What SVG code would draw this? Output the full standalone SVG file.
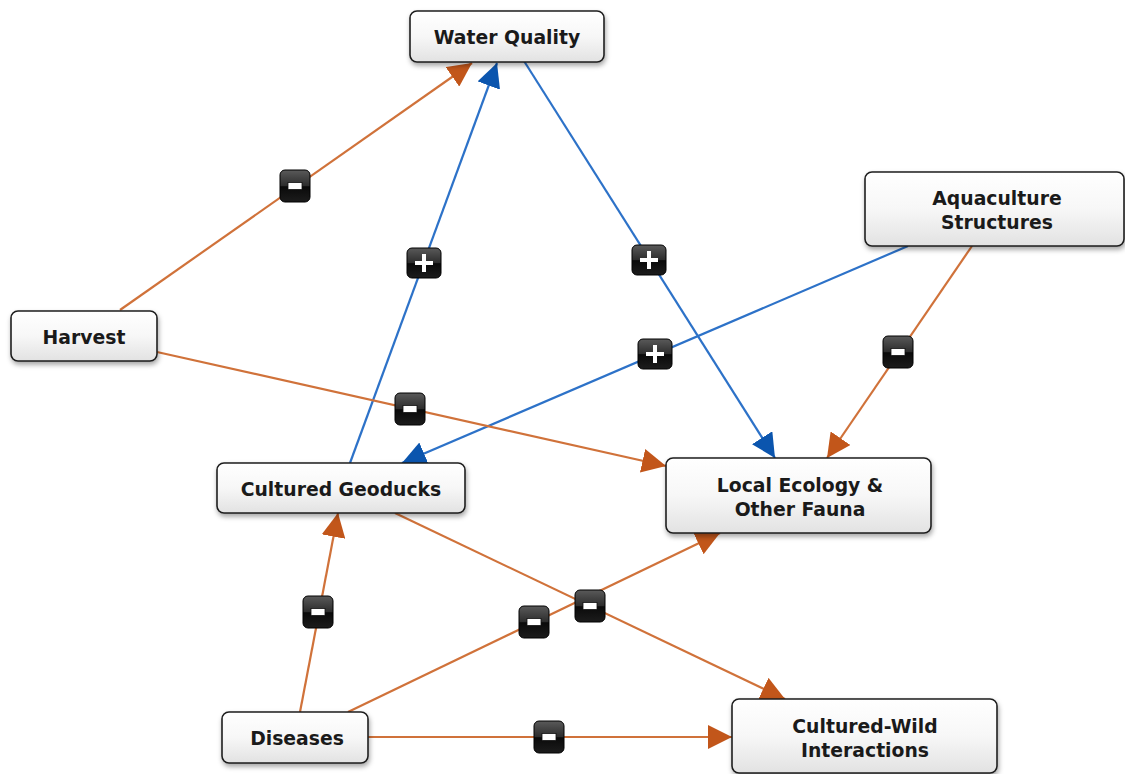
<svg xmlns="http://www.w3.org/2000/svg" width="1125" height="774" viewBox="0 0 1125 774">
<defs>
<linearGradient id="ng" x1="0" y1="0" x2="0" y2="1">
<stop offset="0" stop-color="#ffffff"/>
<stop offset="0.5" stop-color="#f7f7f7"/>
<stop offset="1" stop-color="#e2e2e2"/>
</linearGradient>
<linearGradient id="bg" x1="0" y1="0" x2="0" y2="1">
<stop offset="0" stop-color="#5a5a5a"/>
<stop offset="0.5" stop-color="#2c2c2c"/>
<stop offset="0.52" stop-color="#0a0a0a"/>
<stop offset="1" stop-color="#1c1c1c"/>
</linearGradient>
<filter id="sh" x="-10%" y="-20%" width="120%" height="150%">
<feDropShadow dx="1" dy="3" stdDeviation="2.5" flood-color="#000" flood-opacity="0.35"/>
</filter>
<marker id="ao" markerUnits="userSpaceOnUse" markerWidth="26" markerHeight="24" viewBox="0 0 26 24" refX="24" refY="12" orient="auto">
<path d="M0,0 L24,12 L0,24 Z" fill="#c2561a"/>
</marker>
<marker id="ab" markerUnits="userSpaceOnUse" markerWidth="26" markerHeight="24" viewBox="0 0 26 24" refX="24" refY="12" orient="auto">
<path d="M0,0 L24,12 L0,24 Z" fill="#0b55ae"/>
</marker>
</defs>
<style>
.node rect{fill:url(#ng);stroke:#1e1e1e;stroke-width:1.6;filter:url(#sh)}
.node text{font-family:"DejaVu Sans",Verdana,sans-serif;font-weight:bold;font-size:18.8px;fill:#1a1a1a;text-anchor:middle}
.o{stroke:#d0723a;stroke-width:2.2;fill:none;marker-end:url(#ao)}
.b{stroke:#2d72c8;stroke-width:2.2;fill:none;marker-end:url(#ab)}
.badge .bx{fill:url(#bg);stroke:#000;stroke-width:1}
.badge .mn{fill:#fff;stroke:#111;stroke-width:0.8}
.badge path{fill:#fff}
</style>
<rect width="1125" height="774" fill="#fff"/>
<g id="connectors">
<line class="o" x1="120" y1="310" x2="472" y2="63"/>
<line class="b" x1="350" y1="463" x2="497" y2="63"/>
<line class="b" x1="524" y1="61" x2="775" y2="458"/>
<line class="b" x1="908" y1="246" x2="402" y2="463"/>
<line class="o" x1="972" y1="246" x2="827" y2="458"/>
<line class="o" x1="157" y1="352" x2="666" y2="466"/>
<line class="o" x1="300" y1="712" x2="338" y2="513"/>
<line class="o" x1="348" y1="712" x2="720" y2="533"/>
<line class="o" x1="395" y1="513" x2="785" y2="699"/>
<line class="o" x1="368" y1="737" x2="732" y2="737"/>
</g>
<g id="badges">
<g class="badge" transform="translate(295,186)"><rect class="bx" x="-15" y="-16" width="30" height="32" rx="5"/><rect class="mn" x="-7" y="-3.5" width="14" height="7"/></g>
<g class="badge" transform="translate(424,263)"><rect class="bx" x="-17" y="-15" width="34" height="30" rx="5"/><path d="M-2,-9 H2 V-2 H9 V2 H2 V9 H-2 V2 H-9 V-2 H-2 Z"/></g>
<g class="badge" transform="translate(649,260)"><rect class="bx" x="-17" y="-15" width="34" height="30" rx="5"/><path d="M-2,-9 H2 V-2 H9 V2 H2 V9 H-2 V2 H-9 V-2 H-2 Z"/></g>
<g class="badge" transform="translate(655,354)"><rect class="bx" x="-17" y="-15" width="34" height="30" rx="5"/><path d="M-2,-9 H2 V-2 H9 V2 H2 V9 H-2 V2 H-9 V-2 H-2 Z"/></g>
<g class="badge" transform="translate(898,352)"><rect class="bx" x="-15" y="-16" width="30" height="32" rx="5"/><rect class="mn" x="-7" y="-3.5" width="14" height="7"/></g>
<g class="badge" transform="translate(410,409)"><rect class="bx" x="-15" y="-16" width="30" height="32" rx="5"/><rect class="mn" x="-7" y="-3.5" width="14" height="7"/></g>
<g class="badge" transform="translate(318,612)"><rect class="bx" x="-15" y="-16" width="30" height="32" rx="5"/><rect class="mn" x="-7" y="-3.5" width="14" height="7"/></g>
<g class="badge" transform="translate(534,622)"><rect class="bx" x="-15" y="-16" width="30" height="32" rx="5"/><rect class="mn" x="-7" y="-3.5" width="14" height="7"/></g>
<g class="badge" transform="translate(590,606)"><rect class="bx" x="-15" y="-16" width="30" height="32" rx="5"/><rect class="mn" x="-7" y="-3.5" width="14" height="7"/></g>
<g class="badge" transform="translate(549,737)"><rect class="bx" x="-15" y="-16" width="30" height="32" rx="5"/><rect class="mn" x="-7" y="-3.5" width="14" height="7"/></g>
</g>
<g id="water-quality" class="node"><rect x="410" y="11" width="194" height="51" rx="7"/><text x="507" y="44">Water Quality</text></g>
<g id="harvest" class="node"><rect x="11" y="311" width="146" height="50" rx="7"/><text x="84" y="344">Harvest</text></g>
<g id="aquaculture-structures" class="node"><rect x="865" y="172" width="259" height="74" rx="7"/><text x="997" y="205">Aquaculture</text><text x="997" y="229">Structures</text></g>
<g id="cultured-geoducks" class="node"><rect x="217" y="463" width="248" height="50" rx="7"/><text x="341" y="496">Cultured Geoducks</text></g>
<g id="local-ecology" class="node"><rect x="666" y="458" width="265" height="75" rx="7"/><text x="800" y="492">Local Ecology &amp;</text><text x="800" y="516">Other Fauna</text></g>
<g id="diseases" class="node"><rect x="222" y="712" width="146" height="51" rx="7"/><text x="297" y="745">Diseases</text></g>
<g id="cultured-wild" class="node"><rect x="732" y="699" width="265" height="74" rx="7"/><text x="865" y="733">Cultured-Wild</text><text x="865" y="757">Interactions</text></g>
</svg>
